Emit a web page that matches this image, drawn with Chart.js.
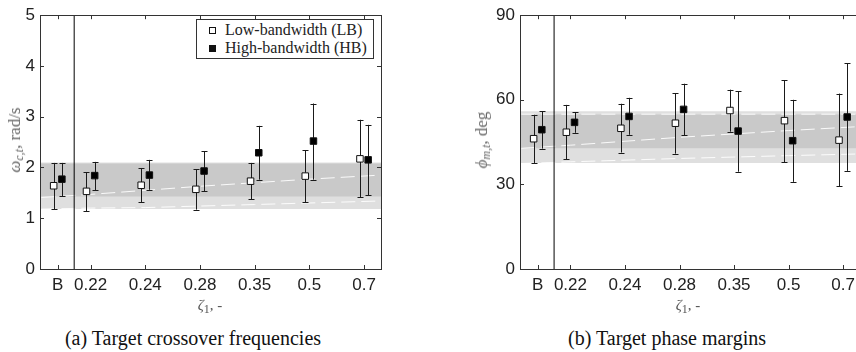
<!DOCTYPE html>
<html>
<head>
<meta charset="utf-8">
<script src="https://cdn.jsdelivr.net/npm/chart.js@4.4.1/dist/chart.umd.min.js"></script>
<style>
  html, body { margin: 0; padding: 0; background: #fff; overflow: hidden; }
  #page { position: relative; width: 856px; height: 352px; overflow: hidden; background: #fff; }
  canvas { position: absolute; top: 0; }
  .ytitle, .xtitle, .caption { position: absolute; font-family: "Liberation Serif", "DejaVu Serif", serif; white-space: nowrap; font-weight: normal; }
  .ytitle { font-size: 17px; color: #666; transform: translate(-50%, -50%) rotate(-90deg); }
  .xtitle { font-size: 15px; color: #555; transform: translate(-50%, -50%); }
  .caption { font-size: 20px; color: #111; transform: translate(-50%, -50%); }
  sub { font-size: 12px; font-style: italic; vertical-align: -3px; }
  .legend { position: absolute; left: 196px; top: 19px; width: 176px; height: 38px; border: 1px solid #333; background: #fff;
            font-family: "Liberation Serif", "DejaVu Serif", serif; font-size: 16px; color: #222; }
  .legend div { position: absolute; left: 28px; white-space: nowrap; line-height: 18px; }
  .legend span { position: absolute; left: -16px; top: 6px; width: 5px; height: 5px; border: 1px solid #111; }
</style>
</head>
<body>
<div id="page">
  <canvas id="chart-crossover" width="400" height="300" style="left:0px;width:400px;height:300px"></canvas>
  <canvas id="chart-phase" width="440" height="300" style="left:430px;width:440px;height:300px"></canvas>

  <div class="ytitle" style="left:16px;top:140px"><i>ω</i><sub>c,t</sub>, rad/s</div>
  <div class="ytitle" style="left:483px;top:140px"><i>ϕ</i><sub>m,t</sub>, deg</div>
  <div class="xtitle" style="left:210px;top:307px"><i>ζ</i><sub style="font-style:normal">1</sub>, -</div>
  <div class="xtitle" style="left:688px;top:307px"><i>ζ</i><sub style="font-style:normal">1</sub>, -</div>
  <div class="caption" style="left:193px;top:338px">(a) Target crossover frequencies</div>
  <div class="caption" style="left:667px;top:338px">(b) Target phase margins</div>

  <div class="legend">
    <div style="top:1px"><span style="background:#fff"></span>Low-bandwidth (LB)</div>
    <div style="top:19px"><span style="background:#111"></span>High-bandwidth (HB)</div>
  </div>
</div>

<script>
// x positions of the categories (B sits closer to 0.22 than the rest)
const xPos = [0.4, 1, 2, 3, 4, 5, 6];
const xLabels = ['B', '0.22', '0.24', '0.28', '0.35', '0.5', '0.7'];
const markerOffset = 0.075;
const dividerX = 0.7;

// --- crossover frequencies, rad/s ---
const lbW = [1.64, 1.53, 1.65, 1.57, 1.73, 1.83, 2.17];
const lbWLow = [1.18, 1.14, 1.32, 1.17, 1.37, 1.32, 1.41];
const lbWHigh = [2.09, 1.91, 1.99, 1.97, 2.09, 2.34, 2.94];
const hbW = [1.77, 1.84, 1.85, 1.93, 2.29, 2.52, 2.15];
const hbWLow = [1.43, 1.55, 1.56, 1.53, 1.76, 1.76, 1.45];
const hbWHigh = [2.09, 2.11, 2.15, 2.32, 2.82, 3.26, 2.84];
const wBandOuter = [1.18, 2.10];
const wBandInner = [1.43, 2.08];
const wLineX = [0.1, 1, 2, 3, 4, 5, 6.3];
const wLineUpper = [1.41, 1.47, 1.55, 1.63, 1.70, 1.77, 1.85];
const wLineLower = [1.18, 1.20, 1.21, 1.24, 1.27, 1.30, 1.34];

// --- phase margins, deg ---
const lbP = [46.2, 48.5, 49.9, 51.7, 56.2, 52.6, 45.7];
const lbPLow = [37.6, 38.9, 41.3, 40.9, 48.7, 37.9, 29.3];
const lbPHigh = [54.7, 58.2, 58.6, 62.4, 63.6, 67.0, 62.2];
const hbP = [49.4, 52.0, 54.1, 56.6, 48.9, 45.5, 53.9];
const hbPLow = [42.7, 48.3, 47.6, 47.4, 34.5, 30.9, 34.8];
const hbPHigh = [55.9, 55.6, 60.7, 65.7, 63.1, 60.0, 72.9];
const pBandOuter = [37.6, 55.9];
const pBandInner = [42.8, 54.8];
const pLineX = [0.1, 1, 2, 3, 4, 5, 6.3];
const pLineTop = [54.9, 54.9, 54.9, 54.9, 54.9, 54.9, 54.9];
const pLineMid = [42.8, 43.9, 45.3, 46.7, 47.9, 49.1, 50.5];
const pLineLow = [37.4, 38.0, 38.6, 39.2, 39.7, 40.2, 40.8];

const xMin = 0.075, xMax = 6.31;

// --- PLUGINS ---

// error bars are drawn just before their marker dataset
const errorBars = {
    id: 'errorBars',
    beforeDatasetDraw(chart, args) {
        const ds = chart.data.datasets[args.index];
        if (!ds.errLow) return;
        const ctx = chart.ctx, xs = chart.scales.x, ys = chart.scales.y;
        ctx.save();
        ctx.strokeStyle = '#1a1a1a';
        ctx.lineWidth = 1;
        ds.data.forEach((p, i) => {
            const x = Math.round(xs.getPixelForValue(p.x)) + 0.5;
            const y1 = ys.getPixelForValue(ds.errLow[i]);
            const y2 = ys.getPixelForValue(ds.errHigh[i]);
            ctx.beginPath();
            ctx.moveTo(x, y1); ctx.lineTo(x, y2);
            ctx.moveTo(x - 3, Math.round(y1) + 0.5); ctx.lineTo(x + 3, Math.round(y1) + 0.5);
            ctx.moveTo(x - 3, Math.round(y2) + 0.5); ctx.lineTo(x + 3, Math.round(y2) + 0.5);
            ctx.stroke();
        });
        ctx.restore();
    }
};

// box round the plot with inward tick marks
const frame = {
    id: 'frame',
    afterDraw(chart) {
        const { ctx, chartArea: a } = chart;
        const xs = chart.scales.x, ys = chart.scales.y;
        ctx.save();
        ctx.strokeStyle = '#333';
        ctx.lineWidth = 1;
        ctx.strokeRect(Math.round(a.left) + 0.5, Math.round(a.top) + 0.5, Math.round(a.right - a.left), Math.round(a.bottom - a.top));
        ctx.beginPath();
        xs.ticks.forEach(t => {
            const x = Math.round(xs.getPixelForValue(t.value)) + 0.5;
            ctx.moveTo(x, a.bottom); ctx.lineTo(x, a.bottom - 4);
            ctx.moveTo(x, a.top); ctx.lineTo(x, a.top + 4);
        });
        ys.ticks.forEach(t => {
            const y = Math.round(ys.getPixelForValue(t.value)) + 0.5;
            ctx.moveTo(a.left, y); ctx.lineTo(a.left + 4, y);
            ctx.moveTo(a.right, y); ctx.lineTo(a.right - 4, y);
        });
        ctx.stroke();
        ctx.restore();
    }
};

// --- CHART BUILDING ---

function points(xs, ys, dx) {
    return xs.map((x, i) => ({ x: x + (dx || 0), y: ys[i] }));
}

function band(range, color, order) {
    return {
        data: [{ x: 0, y: range[1] }, { x: 7, y: range[1] }],
        fill: { value: range[0] },
        backgroundColor: color,
        borderWidth: 0,
        pointRadius: 0,
        order: order
    };
}

function dashed(xs, ys) {
    return {
        data: points(xs, ys),
        borderColor: 'rgba(255,255,255,0.9)',
        borderWidth: 1,
        borderDash: [14, 6],
        pointRadius: 0,
        fill: false,
        order: 8
    };
}

function markers(ys, low, high, dx, fillColor, order) {
    return {
        data: points(xPos, ys, dx),
        errLow: low,
        errHigh: high,
        showLine: false,
        pointStyle: 'rect',
        pointRadius: 4.6,
        pointBackgroundColor: fillColor,
        pointBorderColor: '#111',
        pointBorderWidth: 1,
        order: order
    };
}

function renderChart(canvasId, opts) {
    const ctx = document.getElementById(canvasId).getContext('2d');
    return new Chart(ctx, {
        type: 'line',
        data: {
            datasets: [
                band(opts.outer, '#dfdfdf', 10),
                band(opts.inner, '#c9c9c9', 9),
                ...opts.lines.map(l => dashed(opts.lineX, l)),
                {
                    data: [{ x: dividerX, y: opts.yMin }, { x: dividerX, y: opts.yMax }],
                    borderColor: '#000', borderWidth: 1, pointRadius: 0, fill: false, order: 7
                },
                markers(opts.lb, opts.lbLow, opts.lbHigh, -markerOffset, '#fff', 2),
                markers(opts.hb, opts.hbLow, opts.hbHigh, markerOffset, '#000', 1)
            ]
        },
        options: {
            responsive: false,
            animation: false,
            layout: { padding: { top: 12, right: opts.padRight, left: 0, bottom: 0 } },
            scales: {
                x: {
                    type: 'linear', min: xMin, max: xMax,
                    grid: { display: false, drawTicks: false },
                    border: { display: false },
                    afterBuildTicks: (scale) => { scale.ticks = xPos.map(v => ({ value: v })); },
                    afterFit: (scale) => { scale.height = 31; },
                    ticks: {
                        autoSkip: false, maxRotation: 0, padding: 6,
                        color: '#222', font: { family: 'Liberation Sans, Arial, sans-serif', size: 17 },
                        callback: (v, i) => xLabels[i]
                    }
                },
                y: {
                    min: opts.yMin, max: opts.yMax,
                    grid: { display: false, drawTicks: false },
                    border: { display: false },
                    afterFit: (scale) => { scale.width = opts.yWidth; },
                    ticks: {
                        stepSize: opts.yStep, padding: 5,
                        color: '#222', font: { family: 'Liberation Sans, Arial, sans-serif', size: 17 }
                    }
                }
            },
            plugins: { legend: { display: false }, tooltip: { enabled: false } }
        },
        plugins: [errorBars, frame]
    });
}

renderChart('chart-crossover', {
    yMin: 0, yMax: 5, yStep: 1, yWidth: 40, padRight: 19,
    outer: wBandOuter, inner: wBandInner,
    lineX: wLineX, lines: [wLineUpper, wLineLower],
    lb: lbW, lbLow: lbWLow, lbHigh: lbWHigh,
    hb: hbW, hbLow: hbWLow, hbHigh: hbWHigh
});

renderChart('chart-phase', {
    yMin: 0, yMax: 90, yStep: 30, yWidth: 90, padRight: 10,
    outer: pBandOuter, inner: pBandInner,
    lineX: pLineX, lines: [pLineTop, pLineMid, pLineLow],
    lb: lbP, lbLow: lbPLow, lbHigh: lbPHigh,
    hb: hbP, hbLow: hbPLow, hbHigh: hbPHigh
});
</script>
</body>
</html>
